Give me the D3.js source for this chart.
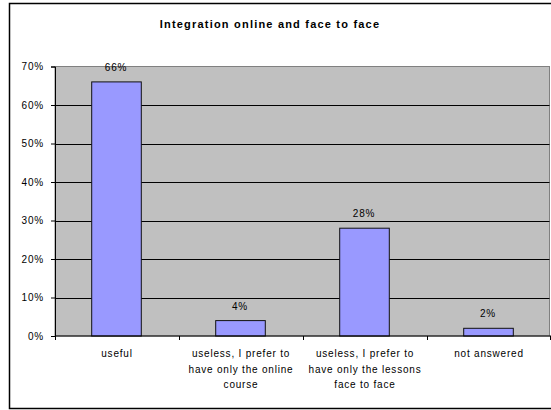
<!DOCTYPE html>
<html>
<head>
<meta charset="utf-8">
<script src="https://cdn.jsdelivr.net/npm/d3@7"></script>
<style>
  html, body { margin: 0; padding: 0; background: #fff; }
  svg { display: block; font-family: Arial, "Liberation Sans", sans-serif; }
</style>
</head>
<body>
<svg id="chart" width="551" height="410"></svg>
<script>
// Survey answers: opinion on integrating the online course with lessons face to face
const categories = [
  "useful",
  "useless, I prefer to\nhave only the online\ncourse",
  "useless, I prefer to\nhave only the lessons\nface to face",
  "not answered"
];
const shares = [0.66, 0.04, 0.28, 0.02];
const yTicks = [0, 0.1, 0.2, 0.3, 0.4, 0.5, 0.6, 0.7];
const title = "Integration online and face to face";

const svg = d3.select("#chart");

// chart frame
svg.append("rect")
  .attr("x", 9.5).attr("y", 3.5)
  .attr("width", 545).attr("height", 405)
  .attr("fill", "#fff").attr("stroke", "#000").attr("stroke-width", 1.5);

// plot area
const plot = { left: 55, right: 551, top: 66.5, bottom: 336 };

const xBand = d3.scaleBand()
  .domain(categories)
  .range([plot.left, plot.right]);

const y = d3.scaleLinear()
  .domain([0, 0.7])
  .range([plot.bottom, plot.top]);

svg.append("rect")
  .attr("x", plot.left).attr("y", plot.top)
  .attr("width", plot.right - plot.left - 1.5)
  .attr("height", plot.bottom - plot.top)
  .attr("fill", "#C0C0C0")
  .attr("stroke", "#808080").attr("stroke-width", 1);

// horizontal gridlines
svg.append("g")
  .selectAll("line")
  .data(yTicks.filter(t => t > 0 && t < 0.7))
  .join("line")
  .attr("x1", plot.left).attr("x2", plot.right - 1.5)
  .attr("y1", d => Math.round(y(d)) + 0.5)
  .attr("y2", d => Math.round(y(d)) + 0.5)
  .attr("stroke", "#000").attr("stroke-width", 1);

// bars: 40% of each category band, centred
svg.append("g")
  .selectAll("rect")
  .data(shares)
  .join("rect")
  .attr("x", (d, i) => xBand(categories[i]) + xBand.bandwidth() * 0.3 - 0.5)
  .attr("y", d => y(d))
  .attr("width", xBand.bandwidth() * 0.4)
  .attr("height", d => plot.bottom - y(d))
  .attr("fill", "#9999FF")
  .attr("stroke", "#111").attr("stroke-width", 1);

// value labels
svg.append("g")
  .selectAll("text")
  .data(shares)
  .join("text")
  .attr("x", (d, i) => xBand(categories[i]) + xBand.bandwidth() / 2 - 1)
  .attr("y", d => y(d) - 11)
  .attr("text-anchor", "middle")
  .attr("font-size", 10)
  .attr("letter-spacing", 0.8)
  .attr("fill", "#000")
  .text(d => d3.format(".0%")(d));

// y axis
const yAxis = svg.append("g")
  .attr("transform", `translate(${plot.left},0)`)
  .call(d3.axisLeft(y).tickValues(yTicks).tickFormat(d3.format(".0%")).tickSize(4).tickPadding(7));
yAxis.select(".domain").attr("stroke", "#000");
yAxis.selectAll(".tick line").attr("stroke", "#000");
yAxis.selectAll("text")
  .attr("font-size", 10).attr("letter-spacing", 0.8)
  .attr("font-family", "Arial, 'Liberation Sans', sans-serif")
  .attr("fill", "#000");

// x axis: ticks sit on the category boundaries
const xAxisG = svg.append("g")
  .attr("transform", `translate(0,${plot.bottom})`);
xAxisG.append("line")
  .attr("x1", plot.left).attr("x2", plot.right)
  .attr("stroke", "#000");
xAxisG.selectAll("line.tick")
  .data(categories.map(c => xBand(c)).concat([plot.right - 1]))
  .join("line")
  .attr("class", "tick")
  .attr("x1", d => Math.round(d) + 0.5).attr("x2", d => Math.round(d) + 0.5)
  .attr("y1", 0).attr("y2", 4)
  .attr("stroke", "#000");

const labels = xAxisG.selectAll("text")
  .data(categories)
  .join("text")
  .attr("text-anchor", "middle")
  .attr("font-size", 10)
  .attr("letter-spacing", 0.8)
  .attr("fill", "#000")
  .attr("transform", d => `translate(${xBand(d) + xBand.bandwidth() / 2},21)`);
labels.selectAll("tspan")
  .data(d => d.split("\n"))
  .join("tspan")
  .attr("x", 0)
  .attr("y", (d, i) => i * 15.7)
  .text(d => d);

// title
svg.append("text")
  .attr("x", 270).attr("y", 28)
  .attr("text-anchor", "middle")
  .attr("font-size", 11)
  .attr("font-weight", "bold")
  .attr("letter-spacing", 1.2)
  .attr("fill", "#000")
  .text(title);
</script>
</body>
</html>
